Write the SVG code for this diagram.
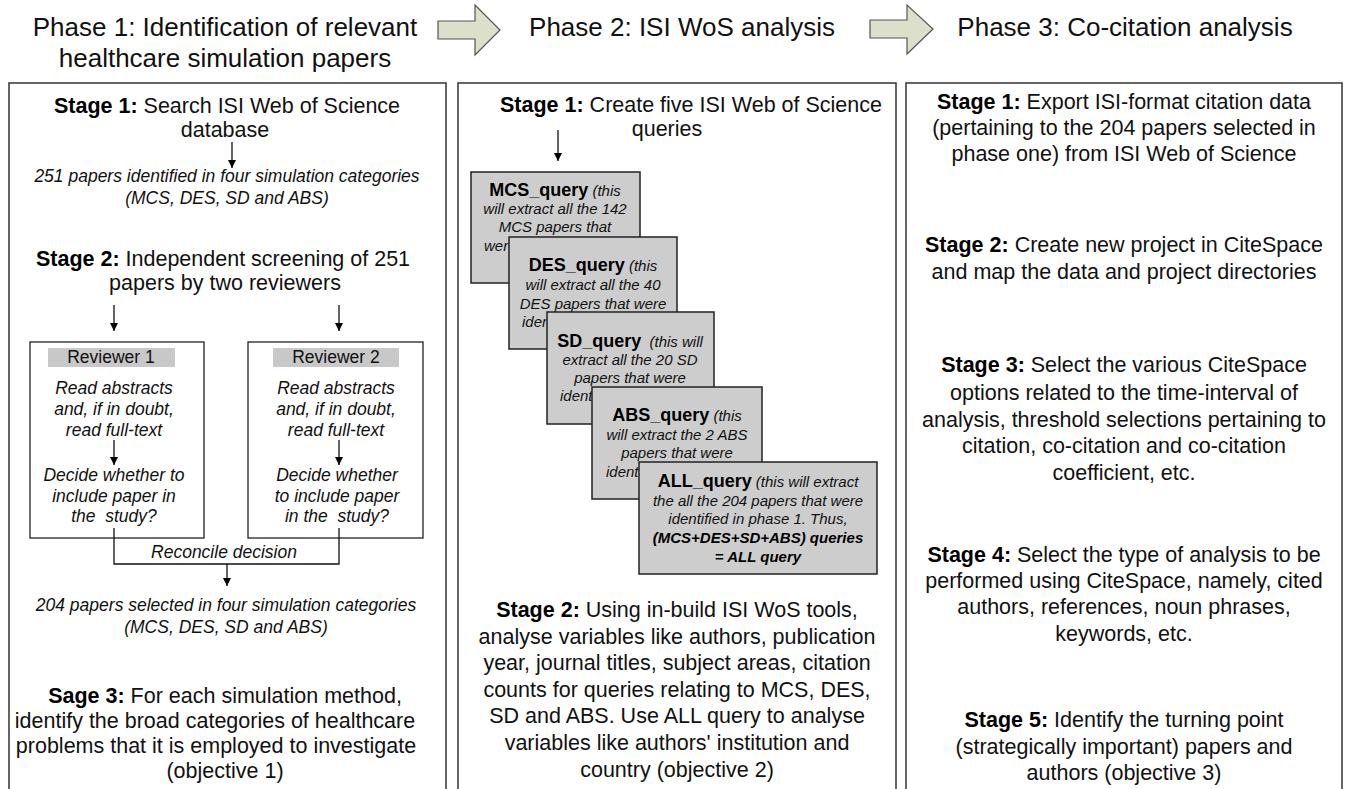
<svg xmlns="http://www.w3.org/2000/svg" width="1345" height="789" viewBox="0 0 1345 789">
<defs>
<style>
text{font-family:"Liberation Sans",Arial,sans-serif;fill:#111;text-anchor:middle}
.t{font-size:21.5px}
.ttl{font-size:26px}
.b{font-weight:bold;fill:#000}
.it{font-style:italic;font-size:17.5px}
.q{font-style:italic;font-size:15px}
.qb{font-weight:bold;font-style:normal;font-size:18px;fill:#000}
.bi{font-weight:bold;font-style:italic;fill:#000}
.st{text-anchor:start}
.panel{fill:none;stroke:#333;stroke-width:1.5}
.box{fill:#fff;stroke:#222;stroke-width:1.3}
.qbox{fill:#cdcdcd;stroke:#222;stroke-width:1.5}
.bar{fill:#c8c8c8}
.ln{fill:none;stroke:#111;stroke-width:1.3}
.blk{fill:#dcdfca;stroke:#555;stroke-width:1.2}
</style>
<marker id="ah" viewBox="0 0 10 10" refX="10" refY="5" markerWidth="11" markerHeight="8" markerUnits="userSpaceOnUse" orient="auto">
<path d="M0,0 L10,5 L0,10 z" fill="#000"/>
</marker>
</defs>
<rect width="1345" height="789" fill="#fff"/>

<g id="titles">
<text class="ttl" x="225" y="36">Phase 1: Identification of relevant</text>
<text class="ttl" x="225" y="67">healthcare simulation papers</text>
<text class="ttl" x="682" y="36">Phase 2: ISI WoS analysis</text>
<text class="ttl" x="1125" y="36">Phase 3: Co-citation analysis</text>
</g>

<g id="phase1">
<path class="panel" d="M9,790 V83 H446 V790"/>
<text class="t" x="227" y="113"><tspan class="b">Stage 1:</tspan> Search ISI Web of Science</text>
<text class="t" x="225" y="137">database</text>
<text class="it" x="227" y="182">251 papers identified in four simulation categories</text>
<text class="it" x="227" y="204">(MCS, DES, SD and ABS)</text>
<text class="t" x="223" y="266"><tspan class="b">Stage 2:</tspan> Independent screening of 251</text>
<text class="t" x="225" y="290">papers by two reviewers</text>
<text class="it" x="224" y="558">Reconcile decision</text>
<text class="it" x="226" y="611">204 papers selected in four simulation categories</text>
<text class="it" x="226" y="633">(MCS, DES, SD and ABS)</text>
<text class="t" x="225" y="703"><tspan class="b">Sage 3:</tspan> For each simulation method,</text>
<text class="t" x="215" y="728">identify the broad categories of healthcare</text>
<text class="t" x="216" y="753">problems that it is employed to investigate</text>
<text class="t" x="225" y="778">(objective 1)</text>
</g>

<g id="reviewer1">
<rect class="box" x="30" y="342" width="174" height="196"/>
<rect class="bar" x="48" y="348" width="127" height="19"/>
<text class="it" style="font-style:normal" x="111" y="363">Reviewer 1</text>
<text class="it" x="114" y="394">Read abstracts</text>
<text class="it" x="114" y="415">and, if in doubt,</text>
<text class="it" x="114" y="436">read full-text</text>
<text class="it" x="114" y="481">Decide whether to</text>
<text class="it" x="114" y="502">include paper in</text>
<text class="it" x="114" y="522">the&#160; study?</text>
</g>

<g id="reviewer2">
<rect class="box" x="248" y="342" width="175" height="196"/>
<rect class="bar" x="273" y="348" width="126" height="19"/>
<text class="it" style="font-style:normal" x="336" y="363">Reviewer 2</text>
<text class="it" x="336" y="394">Read abstracts</text>
<text class="it" x="336" y="415">and, if in doubt,</text>
<text class="it" x="336" y="436">read full-text</text>
<text class="it" x="337" y="481">Decide whether</text>
<text class="it" x="337" y="502">to include paper</text>
<text class="it" x="337" y="522">in the&#160; study?</text>
</g>

<g id="phase2">
<path class="panel" d="M458,790 V83 H896 V790"/>
<text class="t" x="691" y="112"><tspan class="b">Stage 1:</tspan> Create five ISI Web of Science</text>
<text class="t" x="667" y="136">queries</text>
<text class="t" x="677" y="617"><tspan class="b">Stage 2:</tspan> Using in-build ISI WoS tools,</text>
<text class="t" x="677" y="644">analyse variables like authors, publication</text>
<text class="t" x="677" y="670">year, journal titles, subject areas, citation</text>
<text class="t" x="677" y="697">counts for queries relating to MCS, DES,</text>
<text class="t" x="677" y="723">SD and ABS. Use ALL query to analyse</text>
<text class="t" x="677" y="750">variables like authors' institution and</text>
<text class="t" x="677" y="777">country (objective 2)</text>
</g>

<g id="mcs_query">
<rect class="qbox" x="471" y="172" width="169" height="111"/>
<text class="q" x="555" y="196"><tspan class="qb">MCS_query</tspan> (this</text>
<text class="q" x="555" y="214">will extract all the 142</text>
<text class="q" x="555" y="232">MCS papers that</text>
<text class="q st" x="484" y="251">were identified</text>
</g>

<g id="des_query">
<rect class="qbox" x="509" y="237" width="168" height="112"/>
<text class="q" x="593" y="271"><tspan class="qb">DES_query</tspan> (this</text>
<text class="q" x="593" y="290">will extract all the 40</text>
<text class="q" x="593" y="309">DES papers that were</text>
<text class="q st" x="522" y="327">identified</text>
</g>

<g id="sd_query">
<rect class="qbox" x="547" y="312" width="167" height="112"/>
<text class="q" x="630" y="347"><tspan class="qb">SD_query</tspan>&#160; (this will</text>
<text class="q" x="630" y="365">extract all the 20 SD</text>
<text class="q" x="630" y="383">papers that were</text>
<text class="q st" x="560" y="401">identified</text>
</g>

<g id="abs_query">
<rect class="qbox" x="592" y="387" width="170" height="112"/>
<text class="q" x="677" y="421"><tspan class="qb">ABS_query</tspan> (this</text>
<text class="q" x="677" y="440">will extract the 2 ABS</text>
<text class="q" x="677" y="458">papers that were</text>
<text class="q st" x="606" y="477">identified</text>
</g>

<g id="all_query">
<rect class="qbox" x="639" y="462" width="238" height="112"/>
<text class="q" x="758" y="487"><tspan class="qb">ALL_query</tspan> (this will extract</text>
<text class="q" x="758" y="506">the all the 204 papers that were</text>
<text class="q" x="758" y="524">identified in phase 1. Thus,</text>
<text class="q bi" x="758" y="543">(MCS+DES+SD+ABS) queries</text>
<text class="q bi" x="758" y="562">= ALL query</text>
</g>

<g id="phase3">
<path class="panel" d="M906,790 V83 H1342 V790"/>
<text class="t" x="1124" y="109"><tspan class="b">Stage 1:</tspan> Export ISI-format citation data</text>
<text class="t" x="1124" y="135">(pertaining to the 204 papers selected in</text>
<text class="t" x="1124" y="161">phase one) from ISI Web of Science</text>
<text class="t" x="1124" y="252"><tspan class="b">Stage 2:</tspan> Create new project in CiteSpace</text>
<text class="t" x="1124" y="279">and map the data and project directories</text>
<text class="t" x="1124" y="372"><tspan class="b">Stage 3:</tspan> Select the various CiteSpace</text>
<text class="t" x="1124" y="400">options related to the time-interval of</text>
<text class="t" x="1124" y="427">analysis, threshold selections pertaining to</text>
<text class="t" x="1124" y="453">citation, co-citation and co-citation</text>
<text class="t" x="1124" y="480">coefficient, etc.</text>
<text class="t" x="1124" y="562"><tspan class="b">Stage 4:</tspan> Select the type of analysis to be</text>
<text class="t" x="1124" y="588">performed using CiteSpace, namely, cited</text>
<text class="t" x="1124" y="614">authors, references, noun phrases,</text>
<text class="t" x="1124" y="641">keywords, etc.</text>
<text class="t" x="1124" y="727"><tspan class="b">Stage 5:</tspan> Identify the turning point</text>
<text class="t" x="1124" y="754">(strategically important) papers and</text>
<text class="t" x="1124" y="780">authors (objective 3)</text>
</g>

<g id="connectors">
<polygon class="blk" points="438,21 475,21 475,5 500,30 475,55 475,39 438,39"/>
<polygon class="blk" points="870,20 907,20 907,5 933,29 907,54 907,38 870,38"/>
<line class="ln" x1="232" y1="142" x2="232" y2="168" marker-end="url(#ah)"/>
<line class="ln" x1="114" y1="305" x2="114" y2="331" marker-end="url(#ah)"/>
<line class="ln" x1="339" y1="305" x2="339" y2="331" marker-end="url(#ah)"/>
<line class="ln" x1="114" y1="440" x2="114" y2="465" marker-end="url(#ah)"/>
<line class="ln" x1="339" y1="440" x2="339" y2="465" marker-end="url(#ah)"/>
<path class="ln" d="M114,528 V564 H339 V528"/>
<line class="ln" x1="227" y1="564" x2="227" y2="586" marker-end="url(#ah)"/>
<line class="ln" x1="558" y1="130" x2="558" y2="161" marker-end="url(#ah)"/>
</g>
</svg>
